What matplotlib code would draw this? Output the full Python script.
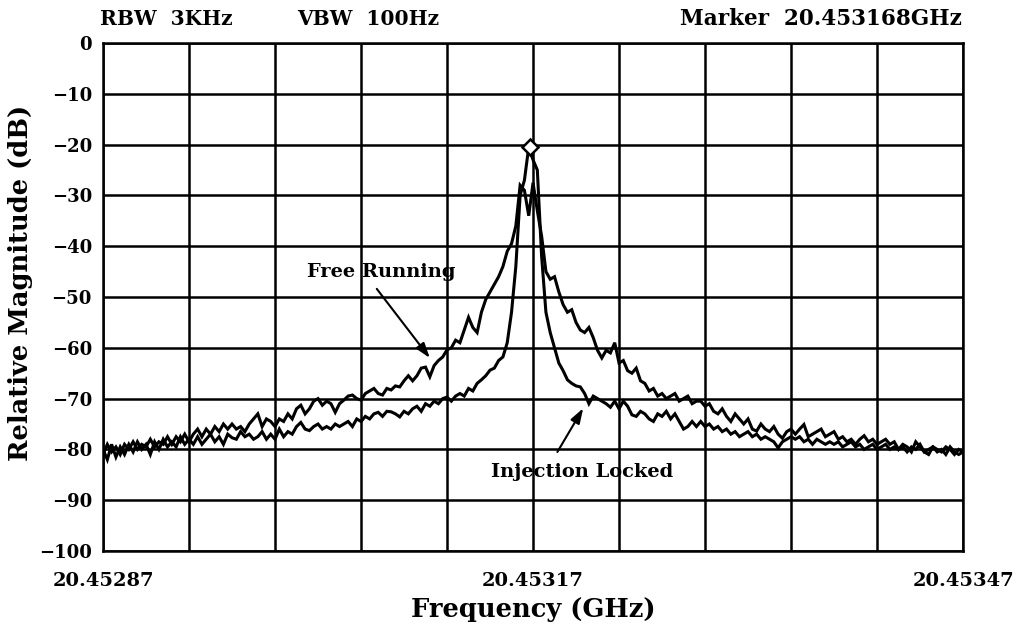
import numpy as np
import matplotlib
matplotlib.use("Agg")
import matplotlib.pyplot as plt

# Sweep settings (GHz)
f_start = 20.45287
f_stop = 20.45347
marker_freq = 20.453168
marker_level = -20.5

# Free running oscillator spectrum (dB), 201 sweep points
free_running = [
    -81, -79, -80.5, -79.5, -81, -79, -80, -78.5, -80, -79,
    -79.5, -78, -79.5, -78.5, -79, -77.5, -79, -77.5, -78.5, -77,
    -78.5, -77, -76, -77.5, -76, -77, -75.5, -76.5, -75, -76,
    -75, -76, -75.5, -76.5, -75, -74, -73, -75.5, -74, -74.5,
    -75.5, -74, -74.5, -73, -74, -72, -71.3, -73, -72, -70.5,
    -70, -71.3, -70.5, -71, -72.7, -71, -70.3, -69.5, -69.3, -70,
    -70.3, -69, -68.5, -68, -69, -69.3, -68, -68.3, -67.5, -67.7,
    -66.5, -65.5, -66.5, -65.5, -64, -63.8, -65.7, -63.5, -62.5, -61.8,
    -60.4, -60, -58.5, -59, -56.5, -54, -56, -57, -53, -50.5,
    -49, -47.5, -46, -44, -41, -39.5, -36, -28, -29, -34,
    -27.5, -33, -38, -45, -46.5, -46, -49, -51.5, -53, -52.5,
    -55, -56.5, -57, -56, -58, -60.5, -62, -60.5, -61, -59,
    -63, -62.5, -64.5, -65, -64, -66.5, -67, -68.5, -68, -69.5,
    -69, -70, -69.5, -69, -70.5, -70, -69.5, -71, -70.5, -70.5,
    -71.5, -71, -72.5, -73, -72, -73.5, -74.5, -73, -74, -75,
    -74, -76, -76.4, -75, -76, -76.5, -75.5, -77, -77.8, -76.5,
    -76, -77, -76, -75.1, -77.5, -77, -76.5, -76, -77.5, -77,
    -76.5, -78, -77.5, -78.5, -78, -79, -78, -77.3, -78.5, -78,
    -79, -78.5, -78, -79, -78.5, -80, -79, -79.5, -80.5, -78.5,
    -79.5, -80.5, -81, -79.5, -80, -80.5, -79.5, -80, -81, -80,
    -80.5,
]

# Injection locked oscillator spectrum (dB), same sweep points
injection_locked = [
    -80, -82, -79, -81.5, -79.5, -81, -79, -80.5, -78.5, -80,
    -79, -81, -78.5, -80, -78, -79.5, -78.5, -79.5, -77.5, -79,
    -78, -79, -77.5, -79, -78, -77, -78.5, -77.5, -79, -77,
    -77.7, -78, -76.5, -77.5, -77, -78, -77.5, -76.5, -78, -77,
    -78, -76, -77.5, -76.5, -77, -75.5, -74.7, -76, -76.3, -75.5,
    -75, -76, -75.5, -76, -75, -75.5, -75, -74.5, -75.5, -74,
    -74.5, -73.5, -74, -73, -72.7, -73.5, -72.5, -72.6, -73, -73.6,
    -72.5, -73, -72, -71.5, -72.5, -71, -71.5, -70.5, -71, -70,
    -69.7, -70.5, -69.5, -69, -69.5, -68, -68.5, -67, -66.3, -65.5,
    -64.4, -64, -62.5, -61.8, -59, -53, -44, -30, -27, -20.5,
    -23, -25, -42, -53, -57, -60, -63, -64.5, -66.3, -67,
    -67.5, -67.7, -69, -71, -69.5, -70, -70.5, -71, -71.7, -70.5,
    -72, -70.5, -71.5, -73.2, -73.5, -72.5, -73, -74, -74.5, -73,
    -73.5, -72.5, -74, -73, -74.5, -76, -75.5, -74.5, -75.5, -74.5,
    -75.5, -75, -76, -75.5, -76.5, -76, -77, -76.5, -77.5, -77,
    -76.5, -77.5, -77, -78, -77.5, -78, -78.5, -79.7, -78.5, -78,
    -77.5, -78, -77.5, -78.5, -78, -79, -78, -78.5, -79, -78.5,
    -79, -78.5, -79.5, -79, -78.5, -79.5, -79, -80, -79.5, -79,
    -80, -79.5, -79, -80, -79.5, -80, -79.5, -80.5, -79.5, -80,
    -79, -80.5, -80, -79.5, -80.5, -80, -81, -79.5, -80.5, -81,
    -80.5,
]

x_tick_labels = ["20.45287", "", "", "", "", "20.45317", "", "", "", "", "20.45347"]
y_ticks = [0, -10, -20, -30, -40, -50, -60, -70, -80, -90, -100]

freq = np.linspace(f_start, f_stop, len(free_running))

plt.rcParams["font.family"] = ["DejaVu Serif"]
plt.rcParams["font.weight"] = "bold"
plt.rcParams["axes.unicode_minus"] = True

fig = plt.figure(figsize=(10.18, 6.27), dpi=100)
ax = fig.add_axes([0.1012, 0.1212, 0.8448, 0.8102])

ax.plot(freq, free_running, color="black", lw=2.2, solid_joinstyle="miter")
ax.plot(freq, injection_locked, color="black", lw=2.2, solid_joinstyle="miter")
ax.plot([marker_freq], [marker_level], marker="D", ms=8, mfc="white",
        mec="black", mew=1.8, zorder=5)

ax.set_xlim(f_start, f_stop)
ax.set_ylim(-100, 0)
ax.set_xticks(np.linspace(f_start, f_stop, 11))
ax.set_xticklabels(x_tick_labels)
ax.set_yticks(y_ticks)
ax.set_yticklabels([f"{v}".replace("-", "\u2212") for v in y_ticks])
ax.tick_params(axis="both", length=0)
ax.tick_params(axis="x", pad=15, labelsize=14)
ax.tick_params(axis="y", pad=8, labelsize=13)
for lab in ax.get_xticklabels() + ax.get_yticklabels():
    lab.set_fontweight("bold")

ax.grid(True, color="black", lw=1.8)
for s in ax.spines.values():
    s.set_linewidth(1.8)

ax.set_xlabel("Frequency (GHz)", fontsize=18.5, fontweight="bold", labelpad=5)
ax.set_ylabel("Relative Magnitude (dB)", fontsize=18.5, fontweight="bold")
ax.yaxis.set_label_coords(-0.082, 0.527)

fig.text(0.0985, 0.97, "RBW  3KHz", fontsize=14.5, fontweight="bold", va="center", ha="left")
fig.text(0.292, 0.97, "VBW  100Hz", fontsize=14.5, fontweight="bold", va="center", ha="left")
fig.text(0.945, 0.97, "Marker  20.453168GHz", fontsize=15.5, fontweight="bold", va="center", ha="right")

arrow_style = dict(arrowstyle="-|>,head_length=0.9,head_width=0.3",
                   color="black", lw=1.5, shrinkA=0, shrinkB=0)
ax.annotate("", xy=(20.453098, -62), xytext=(20.453061, -48.4), arrowprops=arrow_style)
ax.text(20.453064, -45.1, "Free Running", fontsize=14, fontweight="bold",
        ha="center", va="center")
ax.annotate("", xy=(20.453205, -71.9), xytext=(20.453187, -80.5), arrowprops=arrow_style)
ax.text(20.453204, -84.4, "Injection Locked", fontsize=14, fontweight="bold",
        ha="center", va="center")

fig.savefig("out.png", dpi=100)
